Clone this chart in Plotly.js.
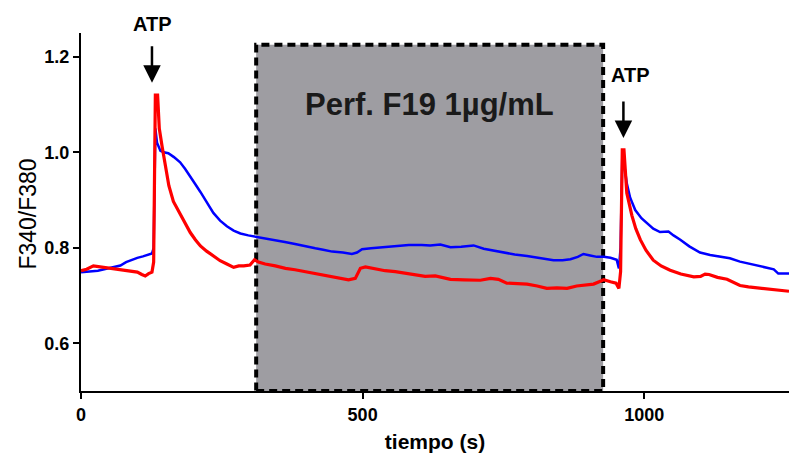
<!DOCTYPE html>
<html>
<head>
<meta charset="utf-8">
<script src="https://cdn.plot.ly/plotly-3.0.1.min.js"></script>
<style>html,body{margin:0;padding:0;background:#fff;}#chart{width:789px;height:454px;}</style>
</head>
<body>
<div id="chart"></div>
<script>
// Time (s) and F340/F380 ratio
const blueX = [0,15,30,45,60,70,80,90,100,110,120,126,129,132,135,141,147,155,165,176,185,194,203,212,223,235,247,259,271,283,297,312,327,345,362,380,398,416,430,446,465,481,490,499,515,534,558,582,605,620,638,656,675,697,715,732,750,770,792,815,839,855,869,882,892,904,916,928,940,951,955,958,961,965,969,975,984,995,1005,1016,1028,1037,1043,1052,1064,1080,1099,1117,1135,1152,1170,1194,1218,1230,1238,1257];
const blueY = [0.749,0.750,0.752,0.756,0.760,0.763,0.770,0.775,0.779,0.782,0.785,0.788,0.80,1.05,1.02,1.003,1.000,0.998,0.990,0.979,0.965,0.950,0.933,0.917,0.895,0.873,0.857,0.845,0.836,0.830,0.826,0.823,0.820,0.817,0.812,0.808,0.803,0.799,0.796,0.792,0.790,0.787,0.790,0.797,0.799,0.801,0.803,0.806,0.806,0.805,0.807,0.801,0.802,0.805,0.798,0.794,0.790,0.786,0.783,0.779,0.774,0.774,0.776,0.781,0.787,0.784,0.781,0.781,0.779,0.775,0.757,0.80,0.99,0.97,0.935,0.905,0.879,0.862,0.851,0.840,0.833,0.834,0.834,0.826,0.817,0.803,0.790,0.785,0.781,0.778,0.771,0.764,0.757,0.755,0.746,0.746];

const redX = [0,10,22,35,46,58,70,80,90,100,108,114,120,126,129,132,136,139,144,150,156,164,176,185,194,203,212,223,235,247,259,271,280,289,300,308,315,327,345,363,380,398,416,434,455,475,487,492,496,505,520,540,558,576,594,611,629,645,656,680,709,727,741,756,775,792,810,827,845,863,880,895,910,920,928,940,950,955,958,961,964,969,978,985,993,1003,1016,1030,1046,1065,1088,1100,1108,1115,1130,1147,1160,1170,1185,1206,1230,1257];
const redY = [0.752,0.755,0.762,0.760,0.757,0.756,0.755,0.752,0.751,0.749,0.744,0.741,0.746,0.749,0.77,1.12,1.12,1.05,1.012,0.970,0.930,0.897,0.872,0.850,0.832,0.817,0.804,0.793,0.783,0.773,0.766,0.759,0.762,0.762,0.764,0.775,0.770,0.766,0.762,0.757,0.754,0.750,0.747,0.743,0.739,0.733,0.736,0.748,0.757,0.760,0.756,0.752,0.750,0.747,0.743,0.740,0.741,0.737,0.734,0.733,0.732,0.736,0.734,0.726,0.725,0.724,0.720,0.715,0.716,0.715,0.720,0.722,0.724,0.729,0.733,0.729,0.726,0.715,0.75,1.005,1.005,0.915,0.868,0.84,0.817,0.795,0.774,0.762,0.753,0.745,0.739,0.740,0.745,0.744,0.738,0.734,0.727,0.721,0.718,0.715,0.713,0.709];

const xTickVals = [0, 500, 1000];
const xTickText = ['0', '500', '1000'];
const yTickVals = [0.6, 0.8, 1.0, 1.2];
const yTickText = ['0.6', '0.8', '1.0', '1.2'];

// Perfusion window and ATP application times
const perfStart = 311, perfEnd = 927, perfTop = 1.2255;
const perfLabel = 'Perf. F19 1µg/mL';
const atpTimes = [126, 963];
const atpTips = [1.146, 1.03];

const FONT = 'Liberation Sans, Arial, Helvetica, sans-serif';

const traces = [
  {x: blueX, y: blueY, type: 'scatter', mode: 'lines', line: {color: '#0000ff', width: 2.5}, hoverinfo: 'x+y', showlegend: false},
  {x: redX, y: redY, type: 'scatter', mode: 'lines', line: {color: '#ff0000', width: 3.2}, hoverinfo: 'x+y', showlegend: false}
];

const annotations = [
  {x: (perfStart + perfEnd) / 2, y: 1.0995, xref: 'x', yref: 'y', text: perfLabel, showarrow: false,
   font: {family: FONT, size: 31, color: '#1a1a1a', weight: 'bold'}, xanchor: 'center', yanchor: 'middle'},
  {x: atpTimes[0] + 1, y: 1.026, xref: 'x', yref: 'paper', text: 'ATP', showarrow: false,
   font: {family: FONT, size: 20, color: '#000', weight: 'bold'}, xanchor: 'center', yanchor: 'middle'},
  {x: 976, y: 1.1625, xref: 'x', yref: 'y', text: 'ATP', showarrow: false,
   font: {family: FONT, size: 20, color: '#000', weight: 'bold'}, xanchor: 'center', yanchor: 'middle'},
  {x: atpTimes[0], y: atpTips[0], xref: 'x', yref: 'y', text: '', showarrow: true, ax: 0, ay: -38,
   arrowhead: 2, arrowsize: 1.4, arrowwidth: 2.5, arrowcolor: '#000'},
  {x: atpTimes[1], y: atpTips[1], xref: 'x', yref: 'y', text: '', showarrow: true, ax: 0, ay: -38,
   arrowhead: 2, arrowsize: 1.4, arrowwidth: 2.5, arrowcolor: '#000'},
  {x: -0.0751, y: 0.495, xref: 'paper', yref: 'paper', text: 'F340/F380', showarrow: false, textangle: -90,
   font: {family: FONT, size: 23, color: '#000'}, xanchor: 'center', yanchor: 'middle'}
];

const layout = {
  width: 789, height: 454,
  margin: {l: 80.7, r: 0, t: 33.3, b: 63},
  paper_bgcolor: '#fff', plot_bgcolor: '#fff',
  showlegend: false,
  font: {family: FONT, color: '#000'},
  xaxis: {
    range: [0, 1257], showgrid: false, zeroline: false,
    showline: true, linecolor: '#000', linewidth: 2,
    ticks: 'outside', ticklen: 6, tickwidth: 2, tickcolor: '#000',
    tickvals: xTickVals, ticktext: xTickText,
    tickfont: {family: FONT, size: 18, color: '#000', weight: 'bold'},
    title: {text: 'tiempo (s)', font: {family: FONT, size: 21, color: '#000', weight: 'bold'}, standoff: 11}
  },
  yaxis: {
    range: [0.5, 1.25], showgrid: false, zeroline: false,
    showline: true, linecolor: '#000', linewidth: 2,
    ticks: 'outside', ticklen: 6, tickwidth: 2, tickcolor: '#000',
    tickvals: yTickVals, ticktext: yTickText,
    tickfont: {family: FONT, size: 18, color: '#000', weight: 'bold'}
  },
  shapes: [
    {type: 'rect', xref: 'x', yref: 'y', x0: perfStart, x1: perfEnd, y0: 0.5, y1: perfTop,
     fillcolor: '#9e9da2', line: {color: '#000', width: 4, dash: '8px,5px'}, layer: 'below'}
  ],
  annotations: annotations
};

Plotly.newPlot('chart', traces, layout, {staticPlot: true, displayModeBar: false});
</script>
</body>
</html>
